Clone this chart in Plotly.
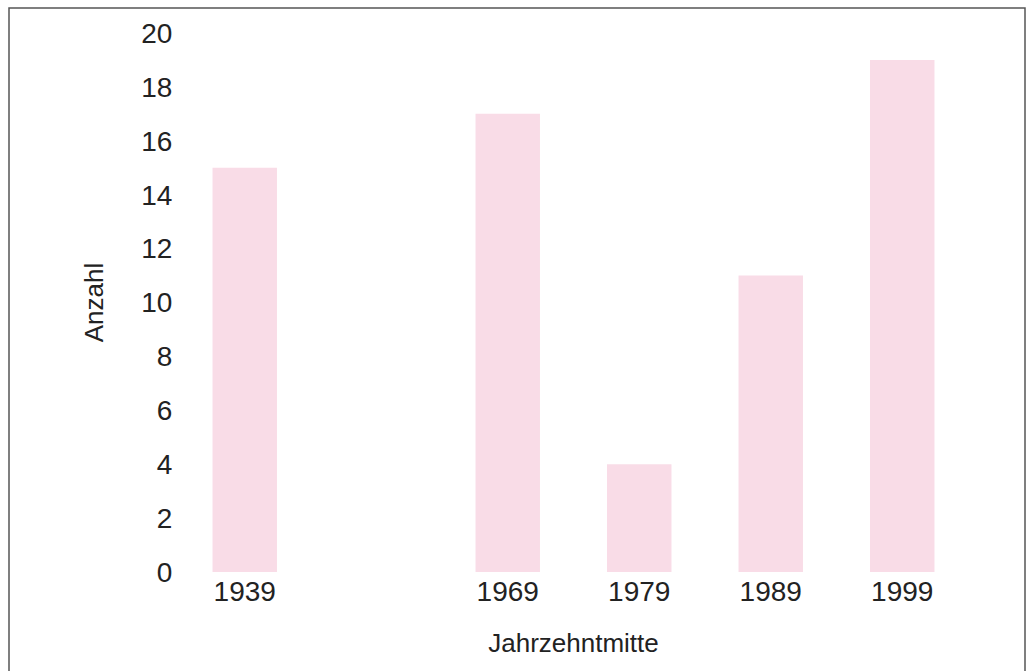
import plotly.graph_objects as go

categories = ["1939", " ", "1969", "1979", "1989", "1999"]
counts = [15, None, 17, 4, 11, 19]
y_ticks = [0, 2, 4, 6, 8, 10, 12, 14, 16, 18, 20]

fig = go.Figure()
fig.add_trace(go.Bar(
    x=categories, y=counts,
    marker=dict(color="#f9dce7", line=dict(width=0)),
    width=0.49,
))

W, H = 1026, 671
l, r, t, b = 179, 58, 33, 99
pw, ph = W - l - r, H - t - b

fig.update_layout(
    width=W, height=H,
    margin=dict(l=l, r=r, t=t, b=b),
    paper_bgcolor="white", plot_bgcolor="white",
    showlegend=False,
    font=dict(family="Liberation Sans, Arial, sans-serif", color="#222222"),
    shapes=[dict(
        type="rect", xref="paper", yref="paper",
        x0=(9 - l) / pw, x1=(1025 - l) / pw,
        y0=(H - b - 700) / ph, y1=(H - b - 8) / ph,
        line=dict(color="#555555", width=1.5),
        fillcolor="rgba(0,0,0,0)", layer="below",
    )],
)
fig.update_xaxes(
    type="category", categoryorder="array", categoryarray=categories,
    range=[-0.5, 5.5], automargin=False,
    showgrid=False, zeroline=False, showline=False,
    ticks="outside", ticklen=0, tickcolor="white",
    ticklabelstandoff=-6,
    tickfont=dict(size=28),
    title=dict(text="Jahrzehntmitte", font=dict(size=26), standoff=28),
)
fig.update_yaxes(
    range=[0, 20], tickvals=y_ticks, automargin=False,
    showgrid=False, zeroline=False, showline=False,
    ticks="outside", ticklen=0, tickcolor="white",
    tickfont=dict(size=28),
    title=dict(text="Anzahl", font=dict(size=26), standoff=30),
)

fig.write_html("out.html")
